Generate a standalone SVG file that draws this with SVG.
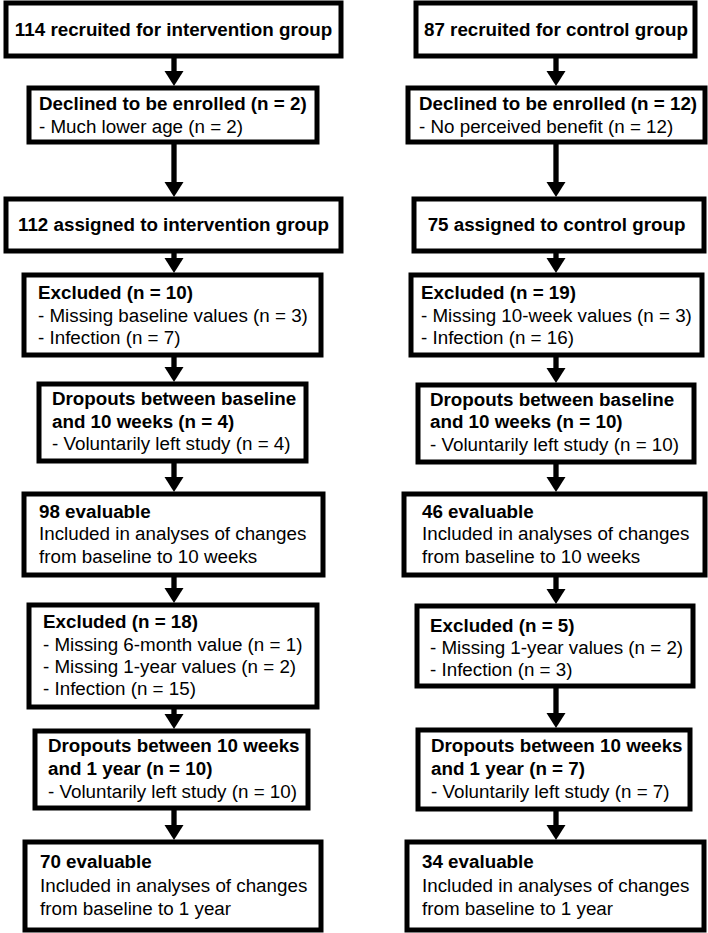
<svg xmlns="http://www.w3.org/2000/svg" width="708" height="933" viewBox="0 0 708 933">
<style>
.box{fill:#fff;stroke:#000;stroke-width:5}
text{font-family:"Liberation Sans",Arial,Helvetica,sans-serif;font-size:18.8px;fill:#000}
.b{font-weight:700}
.c{text-anchor:middle}
.shaft{stroke:#000;stroke-width:5.3;fill:none}
.head{fill:#000}
</style>
<rect width="708" height="933" fill="#fff"/>
<g id="connectors">
<path class="shaft" d="M174,56V72 M174,142V183 M174,251V259 M174,355V368 M174,461V478 M174,575V589 M174,707V715 M174,808V826"/>
<polygon class="head" points="164.5,71 183.5,71 174,86"/>
<polygon class="head" points="164.5,182 183.5,182 174,197"/>
<polygon class="head" points="164.5,258 183.5,258 174,273"/>
<polygon class="head" points="164.5,367 183.5,367 174,382"/>
<polygon class="head" points="164.5,477 183.5,477 174,492"/>
<polygon class="head" points="164.5,588 183.5,588 174,603"/>
<polygon class="head" points="164.5,714 183.5,714 174,729"/>
<polygon class="head" points="164.5,825 183.5,825 174,840"/>
<path class="shaft" d="M556,56V72 M556,142V183 M556,251V259 M556,355V369 M556,462V478 M556,575V590 M556,686V714 M556,809V826"/>
<polygon class="head" points="546.5,71 565.5,71 556,86"/>
<polygon class="head" points="546.5,182 565.5,182 556,197"/>
<polygon class="head" points="546.5,258 565.5,258 556,273"/>
<polygon class="head" points="546.5,368 565.5,368 556,383"/>
<polygon class="head" points="546.5,477 565.5,477 556,492"/>
<polygon class="head" points="546.5,589 565.5,589 556,604"/>
<polygon class="head" points="546.5,713 565.5,713 556,728"/>
<polygon class="head" points="546.5,825 565.5,825 556,840"/>
</g>
<g id="L1"><rect class="box" x="6" y="3" width="335" height="53"/><text class="b c" x="173.5" y="36">114 recruited for intervention group</text></g>
<g id="L2"><rect class="box" x="29" y="88" width="288" height="54"/><text class="b" x="39" y="110">Declined to be enrolled (n = 2)</text><text x="39" y="133">- Much lower age (n = 2)</text></g>
<g id="L3"><rect class="box" x="6" y="199" width="335" height="52"/><text class="b c" x="173.5" y="231">112 assigned to intervention group</text></g>
<g id="L4"><rect class="box" x="24" y="275" width="297" height="80"/><text class="b" x="38" y="299">Excluded (n = 10)</text><text x="38" y="322">- Missing baseline values (n = 3)</text><text x="38" y="344">- Infection (n = 7)</text></g>
<g id="L5"><rect class="box" x="39" y="384" width="267" height="77"/><text class="b" x="52" y="405">Dropouts between baseline</text><text class="b" x="52" y="428">and 10 weeks (n = 4)</text><text x="52" y="450">- Voluntarily left study (n = 4)</text></g>
<g id="L6"><rect class="box" x="24" y="494" width="299" height="81"/><text class="b" x="39" y="518">98 evaluable</text><text x="39" y="540">Included in analyses of changes</text><text x="39" y="563">from baseline to 10 weeks</text></g>
<g id="L7"><rect class="box" x="29" y="605" width="288" height="102"/><text class="b" x="43" y="628">Excluded (n = 18)</text><text x="43" y="651">- Missing 6-month value (n = 1)</text><text x="43" y="673">- Missing 1-year values (n = 2)</text><text x="43" y="695">- Infection (n = 15)</text></g>
<g id="L8"><rect class="box" x="35" y="731" width="273" height="77"/><text class="b" x="48" y="752">Dropouts between 10 weeks</text><text class="b" x="48" y="775">and 1 year (n = 10)</text><text x="48" y="798">- Voluntarily left study (n = 10)</text></g>
<g id="L9"><rect class="box" x="25" y="842" width="296" height="88"/><text class="b" x="40" y="868">70 evaluable</text><text x="40" y="892">Included in analyses of changes</text><text x="40" y="915">from baseline to 1 year</text></g>
<g id="R1"><rect class="box" x="416" y="3" width="279" height="53"/><text class="b c" x="556" y="36">87 recruited for control group</text></g>
<g id="R2"><rect class="box" x="408" y="88" width="297" height="54"/><text class="b" x="419" y="110">Declined to be enrolled (n = 12)</text><text x="419" y="133">- No perceived benefit (n = 12)</text></g>
<g id="R3"><rect class="box" x="414" y="199" width="290" height="52"/><text class="b c" x="556.5" y="231">75 assigned to control group</text></g>
<g id="R4"><rect class="box" x="411" y="275" width="291" height="80"/><text class="b" x="421" y="299">Excluded (n = 19)</text><text x="421" y="322">- Missing 10-week values (n = 3)</text><text x="421" y="344">- Infection (n = 16)</text></g>
<g id="R5"><rect class="box" x="418" y="385" width="276" height="77"/><text class="b" x="430" y="406">Dropouts between baseline</text><text class="b" x="430" y="428">and 10 weeks (n = 10)</text><text x="430" y="451">- Voluntarily left study (n = 10)</text></g>
<g id="R6"><rect class="box" x="404" y="494" width="301" height="81"/><text class="b" x="422" y="518">46 evaluable</text><text x="422" y="540">Included in analyses of changes</text><text x="422" y="563">from baseline to 10 weeks</text></g>
<g id="R7"><rect class="box" x="417" y="606" width="276" height="80"/><text class="b" x="430" y="632">Excluded (n = 5)</text><text x="430" y="654">- Missing 1-year values (n = 2)</text><text x="430" y="676">- Infection (n = 3)</text></g>
<g id="R8"><rect class="box" x="418" y="730" width="272" height="79"/><text class="b" x="431" y="752">Dropouts between 10 weeks</text><text class="b" x="431" y="775">and 1 year (n = 7)</text><text x="431" y="798">- Voluntarily left study (n = 7)</text></g>
<g id="R9"><rect class="box" x="407" y="842" width="297" height="88"/><text class="b" x="422" y="868">34 evaluable</text><text x="422" y="892">Included in analyses of changes</text><text x="422" y="915">from baseline to 1 year</text></g>
</svg>
